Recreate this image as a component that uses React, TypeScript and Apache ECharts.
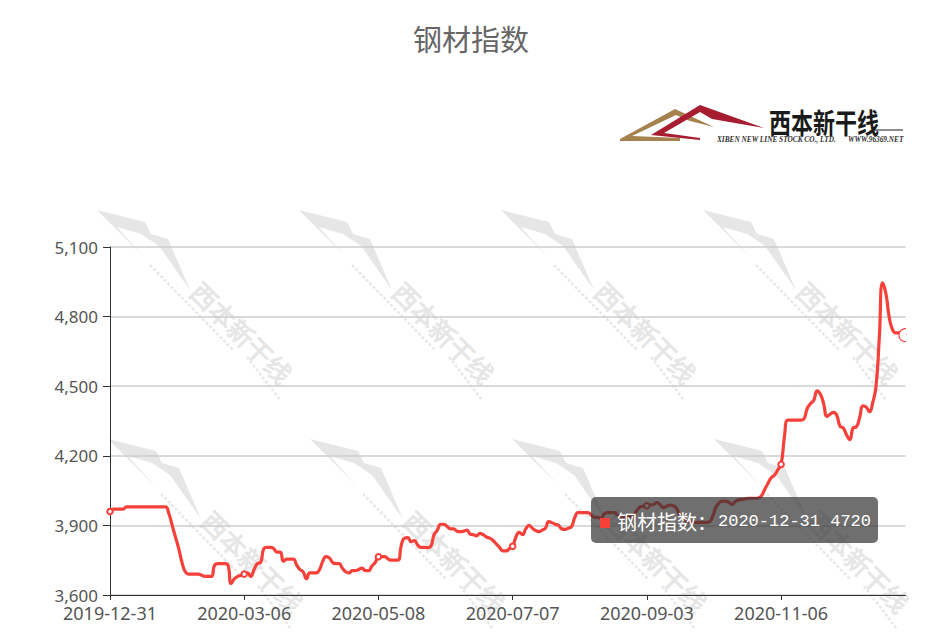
import React, { useEffect, useRef } from "react";
import * as echarts from "echarts";

const chartTitle = "钢材指数";
const seriesName = "钢材指数";
const dates = [
  "2019-12-31",
  "2020-01-02","2020-01-03","2020-01-06","2020-01-07","2020-01-08","2020-01-09","2020-01-10","2020-01-13","2020-01-14","2020-01-15","2020-01-16","2020-01-17","2020-01-20","2020-01-21","2020-01-22","2020-01-23",
  "2020-02-03","2020-02-04","2020-02-05","2020-02-06","2020-02-07","2020-02-10","2020-02-11","2020-02-12","2020-02-13","2020-02-14","2020-02-17","2020-02-18","2020-02-19","2020-02-20","2020-02-21","2020-02-24","2020-02-25","2020-02-26","2020-02-27","2020-02-28",
  "2020-03-02","2020-03-03","2020-03-04","2020-03-05","2020-03-06","2020-03-09","2020-03-10","2020-03-11","2020-03-12","2020-03-13","2020-03-16","2020-03-17","2020-03-18","2020-03-19","2020-03-20","2020-03-23","2020-03-24","2020-03-25","2020-03-26","2020-03-27","2020-03-30","2020-03-31",
  "2020-04-01","2020-04-02","2020-04-03","2020-04-07","2020-04-08","2020-04-09","2020-04-10","2020-04-13","2020-04-14","2020-04-15","2020-04-16","2020-04-17","2020-04-20","2020-04-21","2020-04-22","2020-04-23","2020-04-24","2020-04-27","2020-04-28","2020-04-29","2020-04-30",
  "2020-05-06","2020-05-07","2020-05-08","2020-05-11","2020-05-12","2020-05-13","2020-05-14","2020-05-15","2020-05-18","2020-05-19","2020-05-20","2020-05-21","2020-05-22","2020-05-25","2020-05-26","2020-05-27","2020-05-28","2020-05-29",
  "2020-06-01","2020-06-02","2020-06-03","2020-06-04","2020-06-05","2020-06-08","2020-06-09","2020-06-10","2020-06-11","2020-06-12","2020-06-15","2020-06-16","2020-06-17","2020-06-18","2020-06-19","2020-06-22","2020-06-23","2020-06-24","2020-06-25","2020-06-29","2020-06-30",
  "2020-07-01","2020-07-02","2020-07-03","2020-07-06","2020-07-07","2020-07-08","2020-07-09","2020-07-10","2020-07-13","2020-07-14","2020-07-15","2020-07-16","2020-07-17","2020-07-20","2020-07-21","2020-07-22","2020-07-23","2020-07-24","2020-07-27","2020-07-28","2020-07-29","2020-07-30","2020-07-31",
  "2020-08-03","2020-08-04","2020-08-05","2020-08-06","2020-08-07","2020-08-10","2020-08-11","2020-08-12","2020-08-13","2020-08-17","2020-08-18","2020-08-19","2020-08-20","2020-08-21","2020-08-24","2020-08-25","2020-08-26","2020-08-27","2020-08-28","2020-08-31",
  "2020-09-01","2020-09-02","2020-09-03","2020-09-04","2020-09-07","2020-09-08","2020-09-09","2020-09-10","2020-09-11","2020-09-14","2020-09-15","2020-09-16","2020-09-17","2020-09-18","2020-09-21","2020-09-22","2020-09-23","2020-09-24","2020-09-25","2020-09-28","2020-09-29","2020-09-30",
  "2020-10-08","2020-10-09","2020-10-12","2020-10-13","2020-10-14","2020-10-15","2020-10-16","2020-10-19","2020-10-20","2020-10-21","2020-10-22","2020-10-23","2020-10-26","2020-10-27","2020-10-28","2020-10-29","2020-10-30",
  "2020-11-02","2020-11-03","2020-11-04","2020-11-05","2020-11-06","2020-11-09","2020-11-10","2020-11-11","2020-11-12","2020-11-13","2020-11-16","2020-11-17","2020-11-18","2020-11-19","2020-11-20","2020-11-23","2020-11-24","2020-11-25","2020-11-26","2020-11-30",
  "2020-12-01","2020-12-02","2020-12-03","2020-12-04","2020-12-07","2020-12-08","2020-12-09","2020-12-10","2020-12-11","2020-12-14","2020-12-15","2020-12-16","2020-12-17","2020-12-18","2020-12-21","2020-12-22","2020-12-23","2020-12-24","2020-12-25","2020-12-28","2020-12-29","2020-12-30","2020-12-31",
];
const values = [
  3960,3970,3970,3970,3970,3980,3980,3980,3980,3980,
  3980,3980,3980,3980,3980,3980,3980,3980,3950,3900,
  3850,3800,3740,3700,3690,3690,3690,3690,3685,3680,
  3680,3680,3730,3735,3735,3735,3730,3650,3670,3680,
  3685,3690,3695,3680,3710,3735,3740,3800,3805,3805,
  3800,3785,3785,3745,3755,3755,3755,3730,3710,3700,
  3670,3695,3695,3695,3710,3745,3765,3760,3740,3735,
  3735,3715,3700,3695,3705,3705,3710,3716,3705,3705,
  3725,3740,3765,3765,3765,3755,3750,3750,3750,3815,
  3845,3847,3830,3834,3815,3805,3805,3804,3810,3860,
  3880,3905,3905,3895,3885,3885,3875,3873,3875,3880,
  3863,3860,3855,3866,3860,3850,3845,3835,3820,3805,
  3790,3790,3800,3810,3850,3870,3860,3885,3900,3888,
  3878,3873,3880,3888,3916,3912,3905,3900,3885,3883,
  3888,3895,3935,3955,3955,3955,3955,3945,3935,3935,
  3930,3950,3955,3955,3955,3945,3937,3937,3937,3937,
  3945,3965,3980,3983,3985,3988,3990,3998,3990,3977,
  3982,3988,3985,3975,3945,3935,3920,3915,3913,3913,
  3913,3913,3913,3915,3935,3975,3997,4005,4004,4000,
  3990,4003,4010,4012,4014,4017,4017,4017,4018,4028,
  4055,4082,4105,4117,4140,4163,4280,4354,4354,4354,
  4354,4354,4360,4405,4425,4440,4480,4465,4425,4370,
  4380,4387,4375,4327,4320,4290,4270,4320,4325,4365,
  4415,4410,4390,4430,4500,4710,4945,4900,4800,4745,
  4730,4730,4730,4720,
];
const yMin = 3600;
const yMax = 5100;
const yStep = 300;
const tooltipName = "钢材指数：";
const tooltipValue = "2020-12-31 4720";
const logoName = "西本新干线";
const logoEnglish = "XIBEN NEW LINE STOCK CO., LTD.";
const logoSite = "WWW.96369.NET";

const RED = "#f5413a";
const LABEL = "#555";
const MARK = "#e6e6e6";
const CJK = '"Noto Sans CJK SC", "Noto Sans", sans-serif';
const LATIN = '"Noto Sans", "Noto Sans CJK SC", sans-serif';

const tileOrigins: number[][] = [
  [97, 208], [299, 208], [501, 208], [703, 208],
  [108, 437], [310, 437], [512, 437], [714, 437],
];

function watermark(ox: number, oy: number) {
  return {
    type: "group",
    x: ox,
    y: oy,
    z: -5,
    silent: true,
    children: [
      {
        type: "polygon",
        z: -5,
        shape: { points: [[0, 2], [48, 14], [54, 26], [71, 31], [93, 82], [62, 38], [44, 26], [20, 19], [26, 26], [48, 50], [0, 2]] },
        style: { fill: MARK },
      },
      { type: "line", z: -5, shape: { x1: 53, y1: 57, x2: 136, y2: 142 }, style: { stroke: "#e8e8e8", lineWidth: 2.5, lineDash: [3, 2] } },
      { type: "line", z: -5, shape: { x1: 150, y1: 149, x2: 183, y2: 192 }, style: { stroke: "#e8e8e8", lineWidth: 2.5, lineDash: [3, 2] } },
      {
        type: "text",
        z: -5,
        x: 145,
        y: 124,
        rotation: -Math.PI / 4,
        style: {
          text: logoName,
          fill: MARK,
          stroke: MARK,
          lineWidth: 0.8,
          font: `26px ${CJK}`,
          textAlign: "center",
          textVerticalAlign: "middle",
        },
      },
    ],
  };
}

const graphics: any[] = [
  ...tileOrigins.map(([a, b]) => watermark(a, b)),
  {
    type: "polygon", z: 5, silent: true,
    shape: { points: [[620, 139], [675, 109], [714, 127], [690, 121], [676, 115], [632, 136], [680, 138], [680, 141], [620, 141]] },
    style: { fill: "#a5824e" },
  },
  {
    type: "polygon", z: 5, silent: true,
    shape: { points: [[651, 135], [700, 105], [764, 128], [712, 119], [700, 112], [664, 133], [700, 138], [700, 140]] },
    style: { fill: "#a81c30" },
  },
  {
    type: "text", z: 5, silent: true, x: 769, y: 121, scaleY: 1.3, originY: 0,
    style: { text: logoName, fill: "#1a1a1a", font: `bold 22px ${CJK}`, textVerticalAlign: "middle" },
  },
  { type: "line", z: 5, silent: true, shape: { x1: 872, y1: 130, x2: 903, y2: 130 }, style: { stroke: "#1a1a1a", lineWidth: 1 } },
  {
    type: "text", z: 5, silent: true, x: 717, y: 139,
    style: { text: logoEnglish, fill: "#333", font: `italic bold 7.3px "Liberation Serif", serif`, textVerticalAlign: "middle" },
  },
  {
    type: "text", z: 5, silent: true, x: 848, y: 139,
    style: { text: logoSite, fill: "#333", font: `italic bold 7.3px "Liberation Serif", serif`, textVerticalAlign: "middle" },
  },
  {
    type: "rect", z: 50, silent: true,
    shape: { x: 591, y: 497, width: 287, height: 46, r: 5 },
    style: { fill: "rgba(50,50,50,0.7)" },
  },
  {
    type: "rect", z: 51, silent: true,
    shape: { x: 600, y: 518, width: 10, height: 10 },
    style: { fill: RED },
  },
  {
    type: "text", z: 51, silent: true, x: 617, y: 521,
    style: { text: tooltipName, fill: "#fff", font: `20px ${CJK}`, textVerticalAlign: "middle" },
  },
  {
    type: "text", z: 51, silent: true, x: 718, y: 521,
    style: { text: tooltipValue, fill: "#fff", font: `17px "Liberation Mono", monospace`, textVerticalAlign: "middle" },
  },
];

export default function App() {
  const ref = useRef<HTMLDivElement>(null);
  useEffect(() => {
    const chart = echarts.init(ref.current!, undefined, { renderer: "svg" });
    const last = dates.length - 1;
    chart.setOption({
      animation: false,
      backgroundColor: "#fff",
      title: {
        text: chartTitle,
        left: 413,
        top: 23,
        padding: 0,
        textStyle: { fontFamily: CJK, fontSize: 29, fontWeight: "normal", color: "#666" },
      },
      grid: { left: 110, right: 26.5, top: 247, bottom: 42, containLabel: false },
      xAxis: {
        type: "category",
        data: dates,
        boundaryGap: false,
        axisLine: { lineStyle: { color: "#333", width: 1 } },
        axisTick: { show: true, length: 5, lineStyle: { color: "#333" } },
        axisLabel: { interval: 40, color: LABEL, fontSize: 18, fontFamily: LATIN, margin: 9, lineHeight: 18, hideOverlap: false },
        splitLine: { show: false },
      },
      yAxis: {
        type: "value",
        min: yMin,
        max: yMax,
        interval: yStep,
        axisLine: { show: true, lineStyle: { color: "#333", width: 1 } },
        axisTick: { show: true, length: 7, lineStyle: { color: "#333" } },
        axisLabel: { color: LABEL, fontSize: 17, fontFamily: LATIN, margin: 12, lineHeight: 13, padding: [0, 0, 3, 0] },
        splitLine: { show: true, lineStyle: { color: "#ccc", width: 1.5 } },
      },
      series: [
        {
          type: "line",
          name: seriesName,
          data: values,
          smooth: true,
          symbol: "emptyCircle",
          symbolSize: 5.5,
          showSymbol: true,
          showAllSymbol: "auto",
          lineStyle: { color: RED, width: 3.2 },
          itemStyle: { color: RED, borderWidth: 1.2 },
          z: 3,
        },
        {
          type: "custom",
          name: seriesName,
          clip: true,
          silent: true,
          z: 4,
          data: [[dates[last], values[last]]],
          renderItem: (_: any, api: any) => {
            const p = api.coord([api.value(0), api.value(1)]);
            return {
              type: "circle",
              shape: { cx: p[0], cy: p[1], r: 6.5 },
              style: { fill: "#fff", stroke: RED, lineWidth: 1.2 },
            };
          },
        },
      ],
      graphic: graphics,
    });
    return () => chart.dispose();
  }, []);
  return <div ref={ref} style={{ position: "absolute", left: 0, top: 0, width: 932, height: 637 }} />;
}
